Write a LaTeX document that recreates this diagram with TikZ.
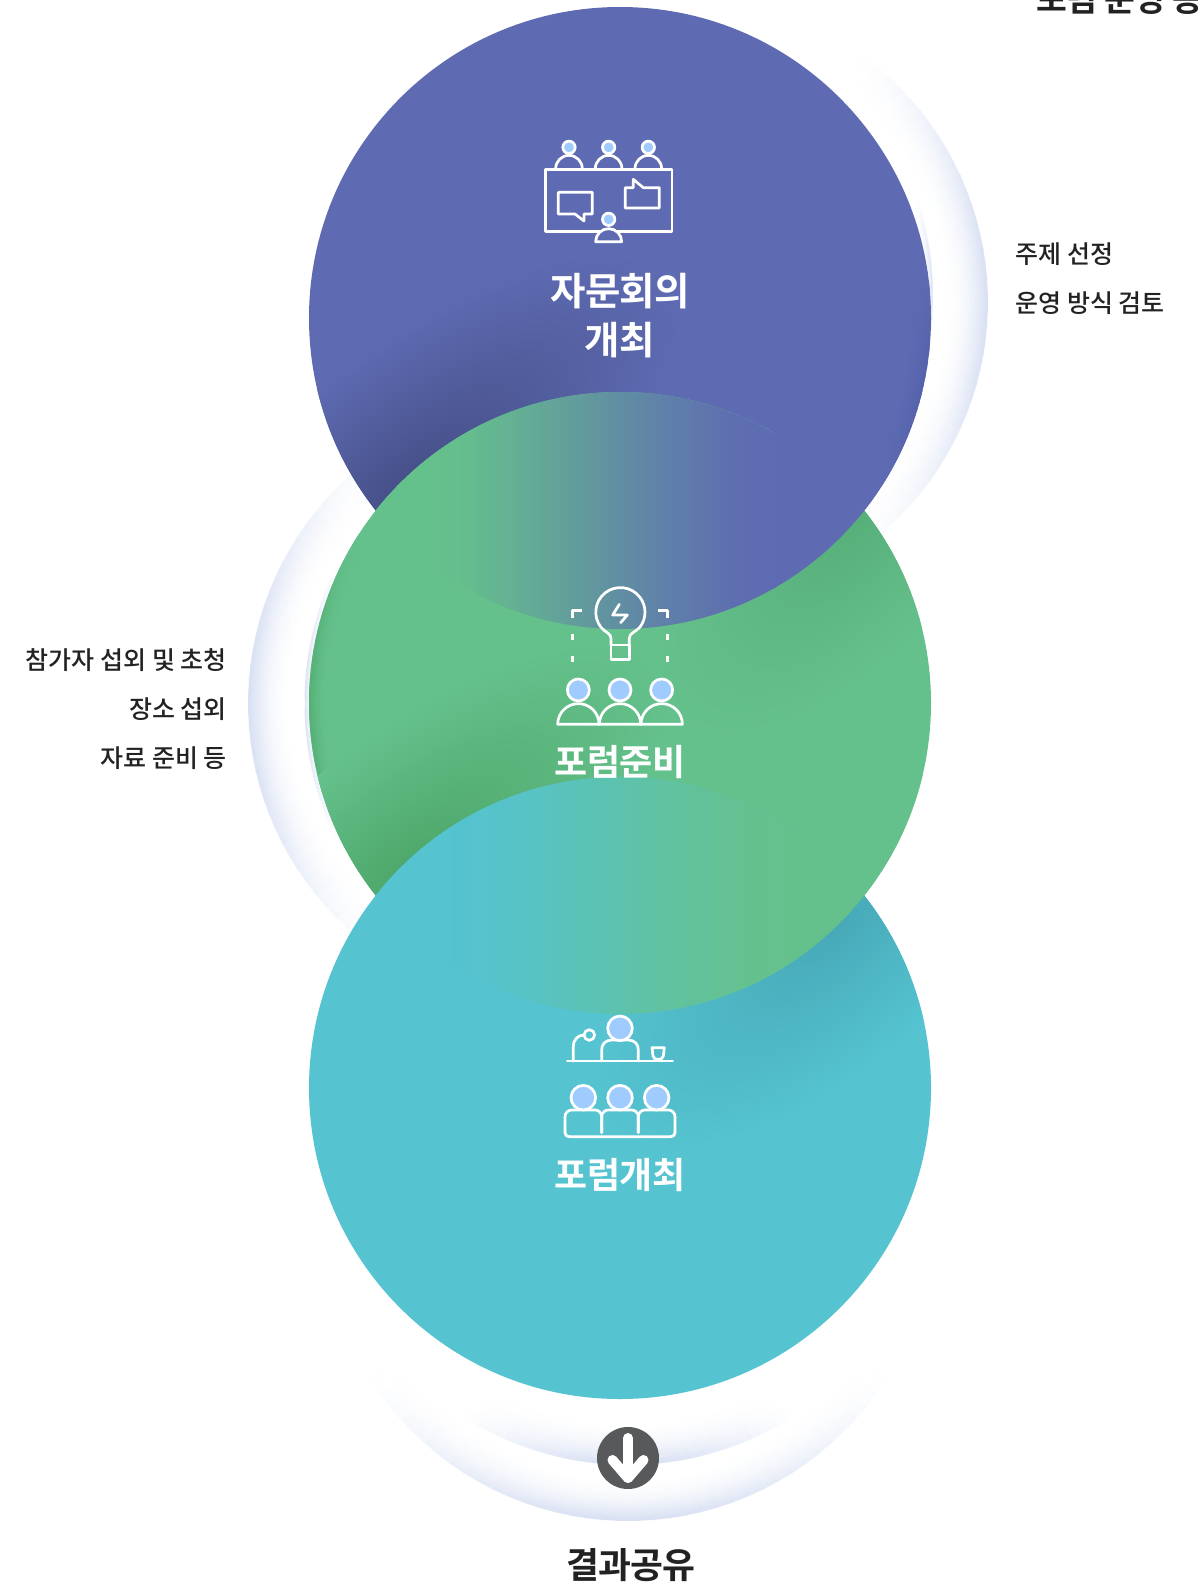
\documentclass[tikz,border=0pt]{standalone}
\usepackage{fontspec}
\setmainfont{Noto Sans CJK KR}
\newfontfamily\medf{Noto Sans CJK KR Medium}
\newfontfamily\headf[LetterSpace=-2]{Noto Sans CJK KR Bold}
\definecolor{pbase}{HTML}{5E6BB2}
\definecolor{pdark}{HTML}{464F88}
\definecolor{pedge}{HTML}{4E5DA8}
\definecolor{gbase}{HTML}{65C18C}
\definecolor{gdarkA}{HTML}{4EA86B}
\definecolor{gdarkB}{HTML}{56AE78}
\definecolor{tbase}{HTML}{55C3D0}
\definecolor{tdark}{HTML}{47A9B8}
\definecolor{ringc}{HTML}{D9E1F3}
\definecolor{iconblue}{HTML}{9FCBFF}
\definecolor{ink}{HTML}{222222}
\definecolor{discc}{HTML}{58595B}
\pgfdeclareradialshading{spotP}{\pgfpoint{0bp}{0bp}}{color(0bp)=(pdark); color(22bp)=(pdark!55!pbase); color(50bp)=(pbase)}
\pgfdeclareradialshading{spotGA}{\pgfpoint{0bp}{0bp}}{color(0bp)=(gdarkA); color(22bp)=(gdarkA!55!gbase); color(50bp)=(gbase)}
\pgfdeclareradialshading{spotGB}{\pgfpoint{0bp}{0bp}}{color(0bp)=(gdarkB); color(22bp)=(gdarkB!55!gbase); color(50bp)=(gbase)}
\pgfdeclareradialshading{spotT}{\pgfpoint{0bp}{0bp}}{color(0bp)=(tdark); color(22bp)=(tdark!55!tbase); color(50bp)=(tbase)}
\pgfdeclarehorizontalshading{lensPG}{100bp}{color(0bp)=(gbase); color(25bp)=(gbase); color(31bp)=(pbase!5!gbase); color(40bp)=(pbase!25!gbase); color(50bp)=(pbase!52!gbase); color(60bp)=(pbase!78!gbase); color(69bp)=(pbase!96!gbase); color(75bp)=(pbase); color(100bp)=(pbase)}
\pgfdeclarehorizontalshading{lensGT}{100bp}{color(0bp)=(tbase); color(25bp)=(tbase); color(31bp)=(gbase!5!tbase); color(40bp)=(gbase!25!tbase); color(50bp)=(gbase!52!tbase); color(60bp)=(gbase!78!tbase); color(69bp)=(gbase!96!tbase); color(75bp)=(gbase); color(100bp)=(gbase)}
% soft elliptical spot: name, x, y (image px), rotation, x radius, y radius (px)
\newcommand{\softspot}[6]{%
  \begin{pgfscope}
    \pgftransformshift{\pgfqpoint{#2pt}{-#3pt}}%
    \pgftransformrotate{#4}%
    \pgfmathsetmacro\sxv{#5/50.1875}\pgfmathsetmacro\syv{#6/50.1875}%
    \pgftransformxscale{\sxv}\pgftransformyscale{\syv}%
    \pgflowlevelsynccm
    \pgfpathcircle{\pgfpointorigin}{50bp}\pgfusepath{clip}%
    \pgfuseshading{#1}%
  \end{pgfscope}}
% glowing rim: cx cy r band span mid pct colour base
\newcommand{\glow}[9]{%
  \begin{scope}[shift={(#1,#2)}]
    \pgfmathsetmacro\lw{#4/16+0.7}
    \foreach \ii in {16,15,...,0}{
      \foreach \jj in {-18,...,18}{
        \pgfmathsetmacro\pct{#7*(1-\ii/16)^2*cos(90*abs(\jj)/18.6)^1.2}
        \pgfmathsetmacro\rr{#3-\ii/16*#4-\lw/2}
        \pgfmathsetmacro\aone{#6+(\jj-0.55)/18*#5}
        \pgfmathsetmacro\atwo{#6+(\jj+0.55)/18*#5}
        \draw[line width=\lw pt,color=#8!\pct!#9] (\aone:\rr) -- (\atwo:\rr);
      }
    }
  \end{scope}}
\tikzset{
  icon/.style={draw=white,line width=2.7pt,line join=round,line cap=round},
  head/.style={icon,fill=iconblue},
  headline/.style={text=white,inner sep=0pt,font=\headf\fontsize{36}{40}\selectfont},
  headlinebig/.style={text=white,inner sep=0pt,font=\headf\fontsize{38.5}{44}\selectfont},
  darkhead/.style={text=ink,inner sep=0pt,font=\headf\fontsize{35.8}{40}\selectfont},
  cuthead/.style={text=ink,inner sep=0pt,font=\headf\fontsize{33.5}{40}\selectfont},
  sidetext/.style={text=ink,inner sep=0pt,font=\medf\fontsize{25}{30}\selectfont},
}
\begin{document}
\begin{tikzpicture}[x=1pt,y=-1pt]
\useasboundingbox (0,0) rectangle (1198,1587);
\fill[white] (0,0) rectangle (1198,1587);
% outer glowing rings
\glow{683}{302}{305}{42}{52}{0}{100}{ringc}{white}
\glow{553}{703}{305}{42}{52}{180}{100}{ringc}{white}
\glow{628}{1216}{305}{42}{56}{90}{100}{ringc}{white}
\glow{628}{1160}{305}{42}{32}{90}{100}{ringc}{white}
% small slivers beside the circles
\glow{622}{296}{311}{8}{16}{-2}{80}{ringc}{white}
\glow{615.5}{703}{311}{8}{26}{180}{90}{ringc}{white}
% purple circle
\fill[pbase] (620,318) circle[radius=311pt];
\begin{scope}
  \clip (620,318) circle[radius=311pt];
  \softspot{spotP}{410}{480}{38}{330}{130}
\end{scope}
% green circle
\fill[gbase] (620,703) circle[radius=311pt];
\begin{scope}
  \clip (620,703) circle[radius=311pt];
  \glow{620}{703}{311}{18}{32}{180}{65}{gdarkA}{gbase}
  \softspot{spotGA}{405}{865}{38}{320}{125}
  \softspot{spotGB}{860}{505}{50}{280}{130}
\end{scope}
% purple / green overlap
\begin{scope}
  \clip (620,318) circle[radius=311pt];
  \begin{scope}
    \clip (620,703) circle[radius=311pt];
    \fill[gbase] (300,300) rectangle (426,700);
    \shade[shading=lensPG] (425,300) rectangle (776,700);
  \end{scope}
  \fill[pbase] (775,390) rectangle (940,700);
  \glow{620}{318}{311}{26}{20}{12}{55}{pedge}{pbase}
\end{scope}
% teal circle
\fill[tbase] (620,1088) circle[radius=311pt];
\begin{scope}
  \clip (620,1088) circle[radius=311pt];
  \softspot{spotT}{835}{925}{42}{300}{130}
\end{scope}
% green / teal overlap
\begin{scope}
  \clip (620,703) circle[radius=311pt];
  \begin{scope}
    \clip (620,1088) circle[radius=311pt];
    \fill[tbase] (300,700) rectangle (446,1100);
    \shade[shading=lensGT] (445,700) rectangle (796,1100);
  \end{scope}
  \fill[gbase] (795,775) rectangle (940,1100);
\end{scope}
% icon 1: meeting
\begin{scope}[shift={(520,120)},x=0.3333pt,y=-0.3333pt]
  \foreach \hx in {147,266,385}{
    \draw[icon] (\hx-40,146) arc[start angle=180,end angle=0,radius=13.3pt];
    \draw[head] (\hx,82) circle[radius=6.2pt];
  }
  \draw[icon] (76,148) rectangle (456,335);
  \draw[icon] (115,217) -- (217,217) -- (217,282) -- (192,282) -- (192,303) -- (165,282) -- (115,282) -- cycle;
  \draw[icon] (316,203) -- (340,203) -- (340,178) -- (370,203) -- (418,203) -- (418,264) -- (316,264) -- cycle;
  \draw[icon,fill=pbase] (227,365) arc[start angle=180,end angle=0,radius=13pt] -- cycle;
  \draw[head] (266,298) circle[radius=6.2pt];
\end{scope}
% icon 2: idea
\begin{scope}[shift={(530,570)},x=0.3333pt,y=-0.3333pt]
  \draw[icon] (243,225) -- (243,205) .. controls (243,190) and (225,187) .. (213,172) arc[start angle=218,end angle=-38,radius=24.6pt] .. controls (315,187) and (298,190) .. (298,205) -- (298,225);
  \draw[icon] (243,225) rectangle (298,268);
  \draw[icon] (268,103) -- (248,135) -- (292,135) -- (272,158);
  \draw[icon,line cap=butt] (127,145) -- (127,121) -- (155,121);
  \draw[icon,line cap=butt] (385,121) -- (412,121) -- (412,145);
  \foreach \dx in {128,412}{
    \draw[icon,line cap=butt] (\dx,193) -- (\dx,210);
    \draw[icon,line cap=butt] (\dx,258) -- (\dx,275);
  }
  \foreach \hx in {145,270,395}{
    \draw[icon] (\hx-62,463) arc[start angle=180,end angle=0,radius=20.7pt] -- cycle;
    \draw[head] (\hx,360) circle[radius=11pt];
  }
\end{scope}
% icon 3: forum
\begin{scope}[shift={(540,1000)},x=0.3333pt,y=-0.3333pt]
  \draw[icon] (82,183) -- (398,183);
  \draw[icon] (100,183) -- (100,140) .. controls (100,118) and (115,105) .. (132,105);
  \draw[icon] (148,105) circle[radius=5.3pt];
  \draw[icon] (185,183) -- (185,150) .. controls (185,132) and (197,120) .. (215,120) -- (265,120) .. controls (283,120) and (295,132) .. (295,150) -- (295,183);
  \draw[head] (240,85) circle[radius=12.3pt];
  \draw[icon] (336,143) -- (373,143) -- (370,168) .. controls (369,182) and (340,182) .. (339,168) -- cycle;
  \foreach \hx in {130,240,350}{
    \draw[icon] (\hx-55,398) -- (\hx-55,350) .. controls (\hx-55,338) and (\hx-45,330) .. (\hx-35,330) -- (\hx+35,330) .. controls (\hx+45,330) and (\hx+55,338) .. (\hx+55,350) -- (\hx+55,398);
    \draw[head] (\hx,293) circle[radius=12.3pt];
  }
  \draw[icon] (75,395) .. controls (75,405) and (80,410) .. (90,410) -- (390,410) .. controls (400,410) and (405,405) .. (405,395);
\end{scope}
% white headings
\node[headlinebig] (t1a) at (620,291) {자문회의};
\node[headlinebig] (t1b) at (620,340) {개최};
\node[headline] (t2) at (620,762) {포럼준비};
\node[headline] (t3) at (620,1175.5) {포럼개최};
% dark headings
\node[cuthead,anchor=base west] (t0) at (1036,12) {포럼 운영 등};
\node[darkhead] (t4) at (631,1565.5) {결과공유};
% side texts
\node[sidetext,anchor=west] (s1) at (1015.5,254) {주제 선정};
\node[sidetext,anchor=west] (s2) at (1015.5,303) {운영 방식 검토};
\node[sidetext,anchor=east] (s3) at (227,660) {참가자 섭외 및 초청};
\node[sidetext,anchor=east] (s4) at (227,709) {장소 섭외};
\node[sidetext,anchor=east] (s5) at (227,758) {자료 준비 등};
% arrow disc
\node[circle,fill=discc,minimum size=62pt,inner sep=0pt] (disc) at (628,1458) {};
\draw[white,line width=10pt,line cap=round,line join=round] (disc.center) ++(0,-20) coordinate (atop) -- ++(0,40) coordinate (atip);
\draw[white,line width=10pt,line cap=round,line join=round] ([shift={(-15.5,2)}]disc.center) -- (atip) -- ([shift={(15.5,2)}]disc.center);
\end{tikzpicture}
\end{document}
